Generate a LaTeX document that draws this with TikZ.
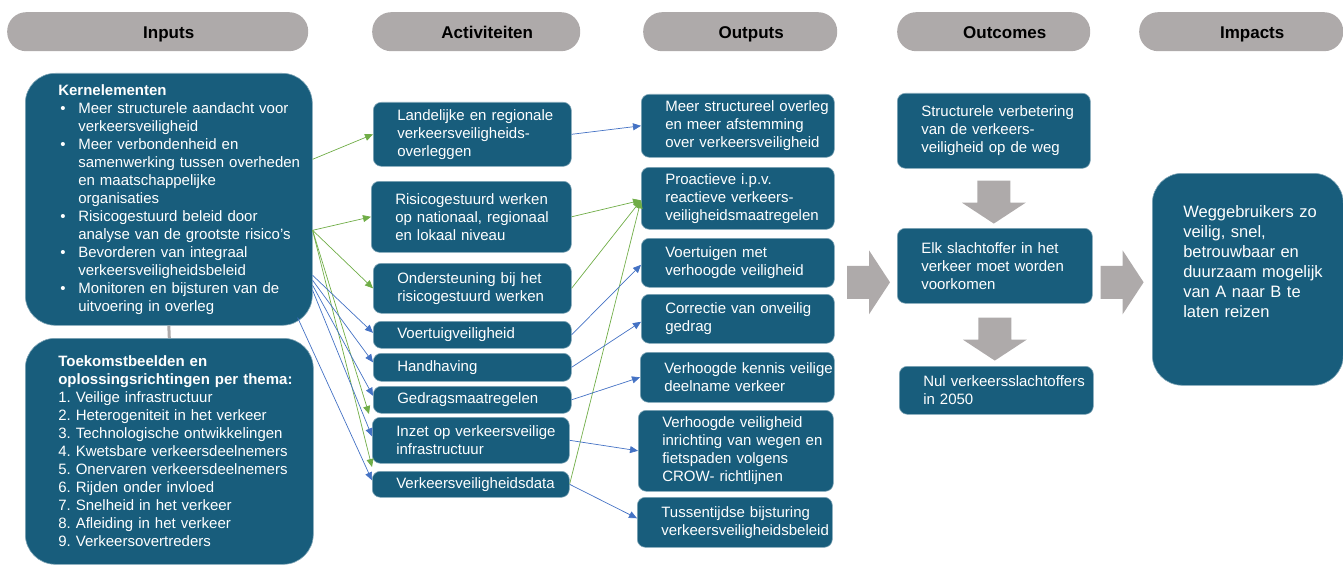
\documentclass[tikz,border=0pt]{standalone}
\usepackage{fontspec}
\setmainfont{Liberation Sans}
\usepackage{xcolor}
\usetikzlibrary{positioning,arrows.meta,calc}

\definecolor{boxblue}{RGB}{24,93,124}
\definecolor{hdrgray}{RGB}{174,170,170}
\definecolor{lgreen}{RGB}{112,173,71}
\definecolor{lblue}{RGB}{68,114,196}

\newcommand{\bul}{\makebox[20pt][l]{\hspace{2pt}\textbullet}}
\newcommand{\ind}{\hspace*{20pt}}
\frenchspacing

\begin{document}
\begin{tikzpicture}[x=1pt,y=-1pt]
\tikzset{hdr/.style={fill=hdrgray,rounded corners=19pt,minimum height=39pt,inner sep=0pt,text height=14pt,text depth=1pt,anchor=north west,font=\fontsize{17}{20}\selectfont\bfseries,execute at begin node={\hspace*{22pt}}},
bluebox/.style={fill=boxblue,draw=boxblue!55!white,line width=0.6pt,text=white,rounded corners=8pt,align=left,inner xsep=0pt,inner ysep=0pt,anchor=north west,font=\fontsize{15}{18}\selectfont,execute at begin node={\leftskip=#1}},
bluebox/.default=24pt,
gline/.style={lgreen,line width=0.7pt,-{Triangle[length=8pt,width=7pt]}},
bline/.style={lblue,line width=0.7pt,-{Triangle[length=8pt,width=7pt]}},
pics/blockarrow/.style={code={\fill[hdrgray] (0,-16.5) -- (22,-16.5) -- (22,-32) -- (43,0) -- (22,32) -- (22,16.5) -- (0,16.5) -- cycle;}}}
\useasboundingbox (0,0) rectangle (1343,567);

% column heads
\node[hdr,minimum width=301pt] (hin) at (7,12) {Inputs};
\node[hdr,minimum width=208pt] (hac) at (372,12) {Activiteiten};
\node[hdr,minimum width=194pt] (hou) at (643,12) {Outputs};
\node[hdr,minimum width=193pt] (hoc) at (897,12) {Outcomes};
\node[hdr,minimum width=204pt] (him) at (1139,12) {Impacts};

% inputs
\node[bluebox=33pt,rounded corners=30pt,text width=287pt,minimum height=252pt] (kern) at (25,73) {\textbf{Kernelementen}\\
\bul Meer structurele aandacht voor\\
\ind verkeersveiligheid\\
\bul Meer verbondenheid en\\
\ind samenwerking tussen overheden\\
\ind en maatschappelijke\\
\ind organisaties\\
\bul Risicogestuurd beleid door\\
\ind analyse van de grootste risico’s\\
\bul Bevorderen van integraal\\
\ind verkeersveiligheidsbeleid\\
\bul Monitoren en bijsturen van de\\
\ind uitvoering in overleg};
\node[bluebox=33pt,rounded corners=30pt,text width=288pt,minimum height=226pt] (toek) at (25,338) {\textbf{Toekomstbeelden en}\\
\textbf{oplossingsrichtingen per thema:}\\
1. Veilige infrastructuur\\
2. Heterogeniteit in het verkeer\\
3. Technologische ontwikkelingen\\
4. Kwetsbare verkeersdeelnemers\\
5. Onervaren verkeersdeelnemers\\
6. Rijden onder invloed\\
7. Snelheid in het verkeer\\
8. Afleiding in het verkeer\\
9. Verkeersovertreders};
\draw[hdrgray,line width=3pt] (kern.south) -- (toek.north);

% activiteiten
\node[bluebox,text width=198pt,minimum height=64pt] (a1) at (373,102) {Landelijke en regionale\\ verkeersveiligheids-\\ overleggen};
\node[bluebox,text width=200pt,minimum height=71pt] (a2) at (371,181) {Risicogestuurd werken\\ op nationaal, regionaal\\ en lokaal niveau};
\node[bluebox,text width=198pt,minimum height=50pt] (a3) at (373,263) {Ondersteuning bij het\\ risicogestuurd werken};
\node[bluebox,text width=198pt,minimum height=27pt] (a4) at (373,321) {Voertuigveiligheid};
\node[bluebox,text width=198pt,minimum height=28pt] (a5) at (373,353) {Handhaving};
\node[bluebox,text width=198pt,minimum height=27pt] (a6) at (373,386) {Gedragsmaatregelen};
\node[bluebox,text width=197pt,minimum height=46pt] (a7) at (372,417) {Inzet op verkeersveilige\\ infrastructuur};
\node[bluebox,text width=197pt,minimum height=26pt] (a8) at (372,471) {Verkeersveiligheidsdata};

% outputs
\node[bluebox,text width=193pt,minimum height=63pt] (o1) at (641,94) {Meer structureel overleg\\ en meer afstemming\\ over verkeersveiligheid};
\node[bluebox,text width=193pt,minimum height=62pt] (o2) at (641,167) {Proactieve i.p.v.\\ reactieve verkeers-\\ veiligheidsmaatregelen};
\node[bluebox,text width=193pt,minimum height=49pt] (o3) at (641,238) {Voertuigen met\\ verhoogde veiligheid};
\node[bluebox,text width=193pt,minimum height=49pt] (o4) at (641,294) {Correctie van onveilig\\ gedrag};
\node[bluebox,text width=194pt,minimum height=50pt] (o5) at (640,352) {Verhoogde kennis veilige\\ deelname verkeer};
\node[bluebox,text width=195pt,minimum height=81pt] (o6) at (638,410) {Verhoogde veiligheid\\ inrichting van wegen en\\ fietspaden volgens\\ CROW- richtlijnen};
\node[bluebox,text width=195pt,minimum height=50pt] (o7) at (637,497) {Tussentijdse bijsturing\\ verkeersveiligheidsbeleid};

% outcomes
\node[bluebox,text width=193pt,minimum height=75pt] (c1) at (897,93) {Structurele verbetering\\ van de verkeers-\\ veiligheid op de weg};
\node[bluebox,text width=195pt,minimum height=75pt] (c2) at (897,228) {Elk slachtoffer in het\\ verkeer moet worden\\ voorkomen};
\node[bluebox,text width=194pt,minimum height=48pt] (c3) at (899,366) {Nul verkeersslachtoffers\\ in 2050};

% impacts
\node[bluebox=31pt,rounded corners=30pt,text width=191pt,minimum height=212pt,font=\fontsize{16.5}{20}\selectfont] (imp) at (1152,173) {Weggebruikers zo\\ veilig, snel,\\ betrouwbaar en\\ duurzaam mogelijk\\ van A naar B te\\ laten reizen\\[16pt]\mbox{}};

\pic[rotate=-90] (dn1) at ($(c1.south)+(0,12)$) {blockarrow};
\pic[rotate=-90] (dn2) at ($(c2.south)+(0,14)$) {blockarrow};
\pic (rt1) at ($(c2.west)+(-50,16.5)$) {blockarrow};
\pic (rt2) at ($(c2.east)+(8,16.5)$) {blockarrow};

% inputs -> activiteiten
\draw[gline] ([yshift=40]kern.east) -- (a1.west);
\foreach \t in {a2.west,a3.west} \draw[gline] ([yshift=-31]kern.east) -- (\t);
\draw[gline] ([yshift=-31]kern.east) -- ([xshift=-3,yshift=3]a7.north west);
\draw[gline] ([yshift=-31]kern.east) -- ([yshift=4]a8.north west);
\foreach \b/\s/\e in {a4/76/2,a5/81/5,a6/86/4,a7/91/4} \draw[bline] ([yshift=-\s]kern.east) -- ([yshift=\e]\b.west);
\draw[bline] ([xshift=-15,yshift=8]kern.south east) -- ([yshift=4]a8.west);

% activiteiten -> outputs
\draw[bline] (a1.east) -- (o1.west);
\foreach \a in {a2,a3,a8} \draw[gline] (\a.east) -- ([yshift=-2]o2.west);
\draw[bline] (a4.east) -- ([yshift=-2]o3.west);
\draw[bline] (a5.east) -- ([yshift=-3]o4.west);
\draw[bline] (a6.east) -- (o5.west);
\draw[bline] (a7.east) -- (o6.west);
\draw[bline] (a8.east) -- ([yshift=4]o7.west);
\end{tikzpicture}
\end{document}
